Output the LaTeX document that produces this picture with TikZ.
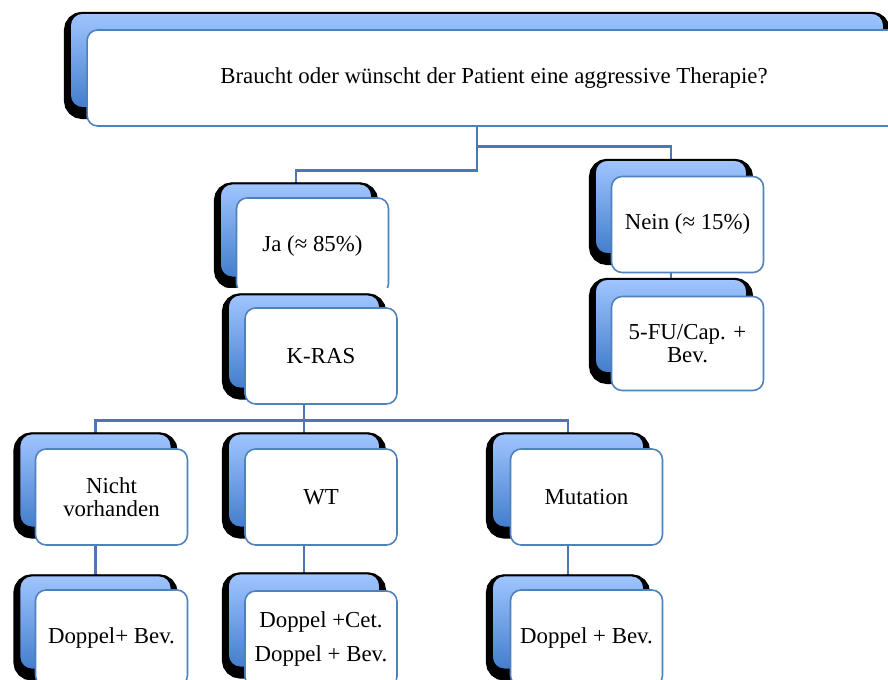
\documentclass[tikz,border=0pt]{standalone}
\usepackage{fontspec}
\setmainfont{Liberation Serif}
\definecolor{blauhell}{RGB}{160,197,255}
\definecolor{blaudunkel}{RGB}{66,125,204}
\definecolor{rahmen}{RGB}{79,129,189}
\definecolor{strich}{RGB}{74,120,182}
\pgfdeclarelayer{linien}
\pgfsetlayers{linien,main}

\begin{document}
\begin{tikzpicture}[
    x=0.02cm, y=-0.02cm,
    rueck/.style={draw=black, line width=1pt, rounded corners=7pt, top color=blauhell, bottom color=blaudunkel,
        minimum width=3.04cm, minimum height=1.88cm,
        preaction={fill=black, draw=black, line width=7pt, transform canvas={yshift=-2.8pt}}},
    feld/.style={draw=rahmen, line width=0.9pt, fill=white, rounded corners=6pt, align=center,
        minimum width=3.04cm, minimum height=1.92cm, font=\fontsize{13}{12.8}\selectfont},
    linie/.style={draw=strich, line width=1.3pt}
]
\path[use as bounding box, clip] (0,0) rectangle (888,679);

% Frage oben
\node[rueck, minimum width=16.28cm, minimum height=1.9cm] (frageh) at (477,60.5) {};
\node[feld, minimum width=16.28cm] (frage) at (494,78) {Braucht oder wünscht der Patient eine aggressive Therapie?};

% Ja (unten abgeschnitten)
\begin{scope}
\clip (0,0) rectangle (888,287);
\node[rueck] (jah) at (296,230.5) {};
\node[feld] (ja) at (312.5,246) {Ja (≈ 85\%)};
\end{scope}

% Nein
\node[rueck] (neinh) at (671,207) {};
\node[feld] (nein) at (687.5,224.5) {Nein (≈ 15\%)};
\node[rueck] (fuh) at (671,326) {};
\node[feld, minimum height=1.88cm] (fu) at (687.5,343.5) {5-FU/Cap. +\\Bev.};

% K-RAS
\node[rueck] (krash) at (304,341.5) {};
\node[feld] (kras) at (321,356) {K-RAS};

% zweite Ebene
\node[rueck] (nichth) at (95.5,480.5) {};
\node[feld] (nicht) at (111.5,497) {Nicht\\vorhanden};
\node[rueck] (wth) at (304,480.5) {};
\node[feld] (wt) at (321,497) {WT};
\node[rueck] (muth) at (568,480.5) {};
\node[feld] (mut) at (586.5,497) {Mutation};

% Therapie
\node[rueck] (dnichth) at (95.5,622.5) {};
\node[feld] (dnicht) at (111.5,638) {Doppel+ Bev.};
\node[rueck] (dwth) at (304,620.5) {};
\node[feld] (dwt) at (321,639) {Doppel +Cet.\\[6pt]Doppel + Bev.};
\node[rueck] (dmuth) at (568,622.5) {};
\node[feld] (dmut) at (586.5,638) {Doppel + Bev.};

\begin{pgfonlayer}{linien}
\draw[linie] (frageh.center) -- ++(0,110) -| (jah.north);
\draw[linie] (frageh.center) -- ++(0,86) -| (neinh.north);
\draw[linie] (neinh) -- (fuh);
\draw[linie] (krash.center) -- ++(0,79) -| (nichth.north);
\draw[linie] (krash.center) -- ++(0,79) -| (muth.north);
\draw[linie] (krash) -- (wth);
\draw[linie] (nichth) -- (dnichth);
\draw[linie] (wth) -- (dwth);
\draw[linie] (muth) -- (dmuth);
\end{pgfonlayer}
\end{tikzpicture}
\end{document}
